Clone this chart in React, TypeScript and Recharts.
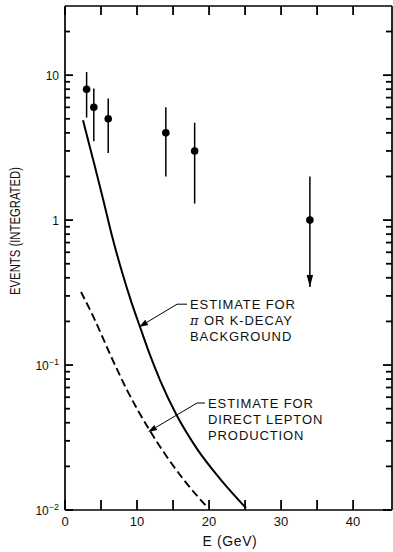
import React from 'react';
import {
  ComposedChart,
  XAxis,
  YAxis,
  Line,
  Scatter,
  ErrorBar,
  ReferenceLine,
  ReferenceDot,
  Label,
} from 'recharts';

// ---- data ----
const measuredE = [3, 4, 6, 14, 18, 34];
const measuredEvents = [8, 6, 5, 4, 3, 1];
const measuredLow = [5.1, 3.5, 2.9, 2.0, 1.3, 0.345];
const measuredHigh = [10.5, 8.1, 6.9, 6.0, 4.7, 2.0];

const limitE = [34];
const limitEvents = [0.345];

const backgroundE = [2.5, 3.89, 5.28, 6.53, 7.92, 9.17, 10.42, 11.81, 13.19, 15.42, 18.33, 21.53, 25.14];
const backgroundEvents = [4.89, 2.63, 1.4, 0.776, 0.438, 0.276, 0.183, 0.117, 0.0788, 0.0459, 0.0264, 0.0164, 0.0103];

const leptonE = [2.22, 3.89, 6.25, 8.61, 11.81, 16.39, 19.86];
const leptonEvents = [0.319, 0.218, 0.119, 0.0672, 0.0351, 0.0164, 0.0103];

const xTicks = [0, 5, 10, 15, 20, 25, 30, 35, 40];
const xLabelled = [0, 10, 20, 30, 40];

const yMajorTicks = [0.01, 0.1, 1, 10];
const yMajorBase = ['10', '10', '1', '10'];
const yMajorExp = ['\u22122', '\u22121', '', ''];
const yMinorTicks = [
  0.02, 0.03, 0.04, 0.05, 0.06, 0.07, 0.08, 0.09,
  0.2, 0.3, 0.4, 0.5, 0.6, 0.7, 0.8, 0.9,
  2, 3, 4, 5, 6, 7, 8, 9,
  20,
];

const annotation1Lines = ['ESTIMATE FOR', 'OR K-DECAY', 'BACKGROUND'];
const annotation2Lines = ['ESTIMATE FOR', 'DIRECT LEPTON', 'PRODUCTION'];

// ---- tables built from the arrays ----
const measuredData = measuredE.map((e, i) => ({
  e,
  v: measuredEvents[i],
  err: [measuredEvents[i] - measuredLow[i], measuredHigh[i] - measuredEvents[i]],
}));
const limitData = limitE.map((e, i) => ({ e, v: limitEvents[i] }));
const backgroundData = backgroundE.map((e, i) => ({ e, v: backgroundEvents[i] }));
const leptonData = leptonE.map((e, i) => ({ e, v: leptonEvents[i] }));

const FONT = '"Liberation Sans", Arial, Helvetica, sans-serif';
const INK = '#000';
const TXT = '#111';

// axis labels only (tick marks are drawn as reference lines below)
const BottomLabel = (p: any) => {
  const { x, y, payload } = p;
  const v = payload.value;
  if (!xLabelled.includes(v)) return <g />;
  return (
    <text x={x} y={y + 16} textAnchor="middle" fontSize={13} fontFamily={FONT} fill={TXT}>
      {String(v)}
    </text>
  );
};

const LeftLabel = (p: any) => {
  const { x, y, index } = p;
  return (
    <text x={x - 6} y={y + 4.5} textAnchor="end" fontSize={12} fontFamily={FONT} fill={TXT}>
      {yMajorBase[index]}
      {yMajorExp[index] && (
        <tspan dy={-5} fontSize={9}>
          {yMajorExp[index]}
        </tspan>
      )}
    </text>
  );
};

const makeYTick = (len: number) => (p: any) => {
  const xa = Math.min(p.x1, p.x2);
  const xb = Math.max(p.x1, p.x2);
  const y = p.y1;
  return (
    <g>
      <line x1={xa} x2={xa + len} y1={y} y2={y} stroke={INK} strokeWidth={1.8} />
      <line x1={xb - len - 1} x2={xb} y1={y} y2={y} stroke={INK} strokeWidth={1.8} />
    </g>
  );
};

const XTickMarks = (p: any) => {
  const ya = Math.min(p.y1, p.y2);
  const yb = Math.max(p.y1, p.y2);
  const x = p.x1;
  return (
    <g>
      <line x1={x} x2={x} y1={ya} y2={ya + 9} stroke={INK} strokeWidth={1.8} />
      <line x1={x} x2={x} y1={yb - 10} y2={yb} stroke={INK} strokeWidth={1.8} />
    </g>
  );
};

const Leader = (p: any) => {
  const { x1, y1, x2, y2 } = p;
  const dx = x2 - x1;
  const dy = y2 - y1;
  const L = Math.sqrt(dx * dx + dy * dy) || 1;
  const ux = dx / L;
  const uy = dy / L;
  const hl = 9;
  const hw = 3;
  const bx = x2 - ux * hl;
  const by = y2 - uy * hl;
  return (
    <g>
      <line x1={x1} y1={y1} x2={bx} y2={by} stroke={INK} strokeWidth={1} />
      <polygon
        points={`${x2},${y2} ${bx - uy * hw},${by + ux * hw} ${bx + uy * hw},${by - ux * hw}`}
        fill={INK}
      />
    </g>
  );
};

const PlainLine = (p: any) => (
  <line x1={p.x1} y1={p.y1} x2={p.x2} y2={p.y2} stroke={INK} strokeWidth={1} />
);

const makeTextBlock = (lines: string[], withPi: boolean) => (p: any) => {
  const x = p.cx + 3;
  return (
    <text x={x} y={p.cy + 5} fontSize={13} fontFamily={FONT} fill={TXT} letterSpacing={0.9}>
      {lines.map((l, i) => (
        <tspan key={i} x={x} dy={i === 0 ? 0 : 16}>
          {withPi && i === 1 ? (
            <>
              <tspan fontStyle="italic" fontFamily={'"DejaVu Serif", serif'}>
                {'\u03c0'}
              </tspan>
              {' ' + l}
            </>
          ) : (
            l
          )}
        </tspan>
      ))}
    </text>
  );
};

const Dot = (p: any) => <circle cx={p.cx} cy={p.cy} r={3.8} fill={INK} />;
const DownArrow = (p: any) => (
  <polygon points={`${p.cx},${p.cy} ${p.cx - 3.2},${p.cy - 12} ${p.cx + 3.2},${p.cy - 12}`} fill={INK} />
);

const MajorYTick = makeYTick(8);
const MinorYTick = makeYTick(5);

export default function App() {
  return (
    <div style={{ position: 'absolute', left: 0, top: 0, background: '#fff' }}>
      <ComposedChart
        width={393}
        height={552}
        margin={{ top: 5, right: 0, bottom: 0, left: 0 }}
        style={{ fontFamily: FONT }}
      >
        <XAxis
          dataKey="e"
          type="number"
          domain={[0, 45.4]}
          allowDataOverflow
          ticks={xTicks}
          interval={0}
          tickSize={0}
          tickMargin={0}
          tickLine={false}
          tick={<BottomLabel />}
          height={42}
          axisLine={{ stroke: INK, strokeWidth: 1.7 }}
        >
          <Label
            content={() => (
              <text x={230} y={546} textAnchor="middle" fontSize={14} fontFamily={FONT} fill={TXT} letterSpacing={0.6}>
                E (GeV)
              </text>
            )}
          />
        </XAxis>
        <XAxis
          xAxisId="top"
          orientation="top"
          dataKey="e"
          type="number"
          domain={[0, 45.4]}
          allowDataOverflow
          tick={false}
          tickLine={false}
          height={1}
          axisLine={{ stroke: INK, strokeWidth: 1.7 }}
        />
        <YAxis
          dataKey="v"
          type="number"
          scale="log"
          domain={[0.01, 30]}
          allowDataOverflow
          ticks={yMajorTicks}
          interval={0}
          tickSize={0}
          tickMargin={0}
          tickLine={false}
          tick={<LeftLabel />}
          width={65}
          axisLine={{ stroke: INK, strokeWidth: 1.7 }}
        >
          <Label
            content={() => (
              <text
                x={20}
                y={231}
                textAnchor="middle"
                fontSize={14}
                fontFamily={FONT}
                fill={TXT}
                textLength={128}
                lengthAdjust="spacingAndGlyphs"
                transform="rotate(-90 20 231)"
              >
                EVENTS (INTEGRATED)
              </text>
            )}
          />
        </YAxis>
        <YAxis
          yAxisId="right"
          orientation="right"
          dataKey="v"
          type="number"
          scale="log"
          domain={[0.01, 30]}
          allowDataOverflow
          tick={false}
          tickLine={false}
          width={1}
          axisLine={{ stroke: INK, strokeWidth: 1.7 }}
        />

        {xTicks.map((t) => (
          <ReferenceLine key={'xt' + t} x={t} shape={<XTickMarks />} ifOverflow="extendDomain" />
        ))}
        {yMajorTicks.map((t) => (
          <ReferenceLine key={'yM' + t} y={t} shape={<MajorYTick />} ifOverflow="extendDomain" />
        ))}
        {yMinorTicks.map((t) => (
          <ReferenceLine key={'ym' + t} y={t} shape={<MinorYTick />} ifOverflow="extendDomain" />
        ))}

        <Line
          data={backgroundData}
          dataKey="v"
          type="monotone"
          stroke={INK}
          strokeWidth={2}
          dot={false}
          activeDot={false}
          isAnimationActive={false}
        />
        <Line
          data={leptonData}
          dataKey="v"
          type="monotone"
          stroke={INK}
          strokeWidth={1.9}
          strokeDasharray="8 4"
          dot={false}
          activeDot={false}
          isAnimationActive={false}
        />

        <Scatter data={measuredData} dataKey="v" shape={<Dot />} isAnimationActive={false}>
          <ErrorBar dataKey="err" direction="y" width={0} stroke={INK} strokeWidth={1.5} isAnimationActive={false} />
        </Scatter>
        <Scatter data={limitData} dataKey="v" shape={<DownArrow />} isAnimationActive={false} />

        <ReferenceLine segment={[{ x: 15.56, y: 0.263 }, { x: 10.28, y: 0.183 }]} shape={<Leader />} />
        <ReferenceLine segment={[{ x: 15.56, y: 0.263 }, { x: 16.94, y: 0.263 }]} shape={<PlainLine />} />
        <ReferenceDot x={16.94} y={0.263} r={1} shape={makeTextBlock(annotation1Lines, true)} />

        <ReferenceLine segment={[{ x: 18.33, y: 0.0547 }, { x: 11.53, y: 0.0345 }]} shape={<Leader />} />
        <ReferenceLine segment={[{ x: 18.33, y: 0.0547 }, { x: 19.44, y: 0.0547 }]} shape={<PlainLine />} />
        <ReferenceDot x={19.44} y={0.0547} r={1} shape={makeTextBlock(annotation2Lines, false)} />
      </ComposedChart>
    </div>
  );
}
